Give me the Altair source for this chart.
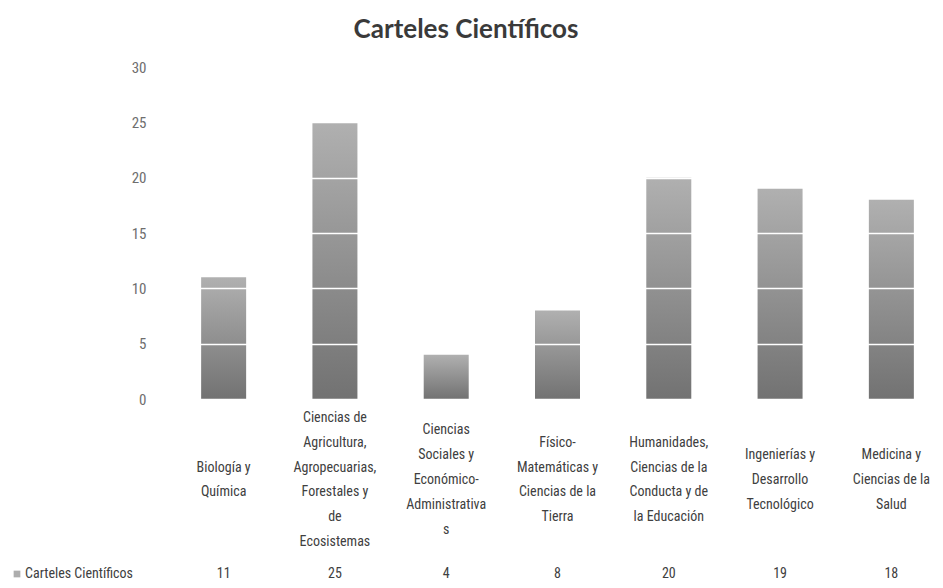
import altair as alt
import pandas as pd

categories = [
    "Biología y\nQuímica",
    "Ciencias de\nAgricultura,\nAgropecuarias,\nForestales y\nde\nEcosistemas",
    "Ciencias\nSociales y\nEconómico-\nAdministrativa\ns",
    "Físico-\nMatemáticas y\nCiencias de la\nTierra",
    "Humanidades,\nCiencias de la\nConducta y de\nla Educación",
    "Ingenierías y\nDesarrollo\nTecnológico",
    "Medicina y\nCiencias de la\nSalud",
]
values = [11, 25, 4, 8, 20, 19, 18]
series_name = "Carteles Científicos"
chart_title = "Carteles Científicos"
y_ticks = [0, 5, 10, 15, 20, 25, 30]

NARROW = "Roboto Condensed, Liberation Sans Narrow, DejaVu Sans Condensed, Roboto"
LINE_H = 24.8

df = pd.DataFrame({"categoria": categories, "valor": values})
legend_df = pd.DataFrame({"serie": [series_name]})
title_df = pd.DataFrame({"t": [chart_title]})

gradient = alt.Gradient(
    gradient="linear",
    stops=[alt.GradientStop(color="#b0b0b0", offset=0),
           alt.GradientStop(color="#727272", offset=1)],
    x1=0, x2=0, y1=0, y2=1,
)

x_enc = alt.X("categoria:N", sort=categories, axis=None,
              scale=alt.Scale(range=[0, 779], paddingInner=0, paddingOuter=0))

base = alt.Chart(df)

bars = base.mark_bar(size=45, color=gradient).encode(
    x=x_enc,
    y=alt.Y("valor:Q", scale=alt.Scale(domain=[0, 30]),
            axis=alt.Axis(values=y_ticks, grid=True, gridColor="white", gridWidth=1.5,
                          domain=False, ticks=False, labelPadding=22, labelFont=NARROW,
                          labelFontSize=15, labelColor="#6e6e6e", title=None, zindex=1)),
)

cat_labels = base.transform_calculate(
    nlines="length(split(datum.categoria, '\\n'))"
).transform_calculate(
    ypix=f"413 - (datum.nlines - 1) * {LINE_H} / 2"
).mark_text(lineBreak="\n", lineHeight=LINE_H, baseline="middle", align="center",
            fontSize=14, font=NARROW, color="#404040").encode(
    x=x_enc, y=alt.Y("ypix:Q", scale=None), text="categoria:N")

val_labels = base.mark_text(baseline="middle", align="center", fontSize=14, font=NARROW,
                            color="#404040").encode(
    x=x_enc, y=alt.value(507), text="valor:Q")

legend_sw = alt.Chart(legend_df).mark_square(size=45, color="#8a8a8a").encode(
    x=alt.value(-151), y=alt.value(507))
legend_tx = alt.Chart(legend_df).mark_text(align="left", baseline="middle", fontSize=14,
                                           font=NARROW, color="#404040").encode(
    x=alt.value(-143), y=alt.value(507), text="serie:N")

title_tx = alt.Chart(title_df).mark_text(align="center", baseline="middle", fontSize=26,
                                         font="Lato", fontWeight="bold", color="#3a3a3a").encode(
    x=alt.value(298), y=alt.value(-37), text="t:N")

chart = alt.layer(bars, cat_labels, val_labels, legend_sw, legend_tx, title_tx).properties(
    width=762, height=332,
    autosize=alt.AutoSizeParams(type="none"),
    padding={"left": 160, "top": 59, "right": 5, "bottom": 181},
).configure_view(stroke=None)

chart.save("out.html", embed_options={"renderer": "svg", "actions": False})
